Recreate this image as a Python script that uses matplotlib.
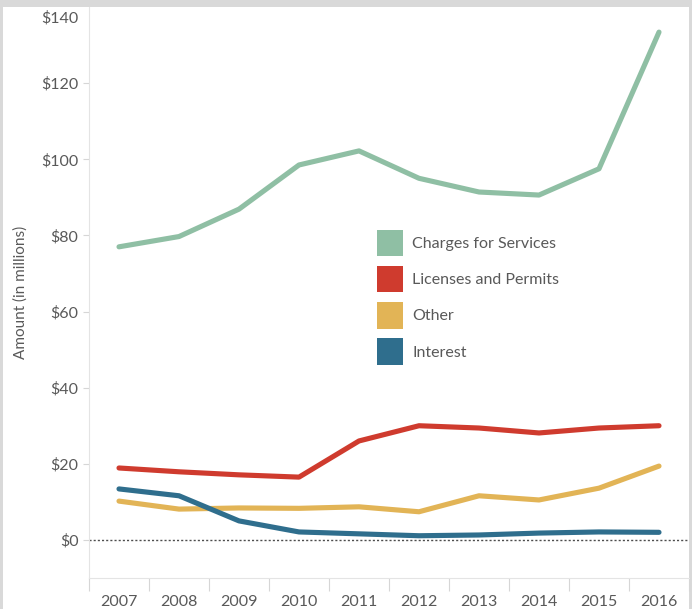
import matplotlib.pyplot as plt
from matplotlib.patches import Patch, Rectangle
from matplotlib.ticker import FixedLocator, FuncFormatter
from matplotlib.transforms import ScaledTranslation

plt.rcParams["font.family"] = ["Lato", "DejaVu Sans"]

# Revenue by source, in millions of dollars
years = [2007, 2008, 2009, 2010, 2011, 2012, 2013, 2014, 2015, 2016]
charges_for_services = [77.0, 79.7, 86.9, 98.5, 102.2, 95.0, 91.4, 90.6, 97.5, 133.4]
licenses_and_permits = [18.9, 17.9, 17.1, 16.5, 26.0, 30.0, 29.4, 28.1, 29.4, 30.0]
other = [10.2, 8.1, 8.4, 8.3, 8.7, 7.4, 11.6, 10.5, 13.6, 19.4]
interest = [13.4, 11.6, 5.0, 2.1, 1.6, 1.1, 1.3, 1.8, 2.1, 2.0]

series_names = ["Charges for Services", "Licenses and Permits", "Other", "Interest"]
series_colors = ["#8fbfa4", "#cf3b2e", "#e2b456", "#2f6e8d"]

W, H = 692, 609
fig = plt.figure(figsize=(W / 100, H / 100), dpi=100, facecolor="#d9d9d9")
# white panel inside the gray frame
fig.patches.append(Rectangle((3 / W, 0), (689 - 3) / W, (H - 7) / H,
                             transform=fig.transFigure, facecolor="white",
                             edgecolor="none", zorder=-10))

ax = fig.add_axes([89 / W, (H - 578) / H, (689 - 89) / W, (578 - 7) / H])
ax.set_facecolor("none")

for vals, name, color in zip([charges_for_services, licenses_and_permits, other, interest],
                             series_names, series_colors):
    ax.plot(years, vals, color=color, linewidth=3.7, solid_capstyle="round",
            solid_joinstyle="round", label=name, zorder=3)

ax.axhline(0, color="#4d4d4d", linestyle=(0, (1.5, 1.5)), linewidth=1.0, zorder=2)

ax.set_xlim(2006.5, 2016.5)
ax.set_ylim(-10, 140)

# y axis: dollar ticks
ax.yaxis.set_major_locator(FixedLocator(list(range(0, 141, 20))))
ax.yaxis.set_major_formatter(FuncFormatter(lambda v, p: f"${v:.0f}"))
ax.tick_params(axis="y", length=4.5, width=0.8, color="#d6d6d6", pad=3,
               labelsize=11.5, labelcolor="#595959")
# keep the top label inside the panel
top_label = ax.get_yticklabels()[-1]
top_label.set_verticalalignment("top")
top_label.set_transform(top_label.get_transform()
                        + ScaledTranslation(0, -3 / 72, fig.dpi_scale_trans))
ax.yaxis.get_major_ticks()[-1].tick1line.set_visible(False)

# x axis: year labels centred, tick marks between years
ax.set_xticks(years)
ax.set_xticks([y - 0.5 for y in years] + [2016.5], minor=True)
ax.tick_params(axis="x", which="major", length=0, pad=12, labelsize=11.5,
               labelcolor="#595959")
ax.tick_params(axis="x", which="minor", length=9, width=0.8, color="#d6d6d6")

for side in ["top", "right"]:
    ax.spines[side].set_visible(False)
for side in ["left", "bottom"]:
    ax.spines[side].set_color("#e4e4e4")
    ax.spines[side].set_linewidth(0.8)

ax.set_ylabel("Amount (in millions)", fontsize=11, color="#595959", labelpad=10)

handles = [Patch(facecolor=c, edgecolor="none") for c in series_colors]
ax.legend(handles, series_names, loc="upper left",
          bbox_to_anchor=(377 / W, (H - 230) / H), bbox_transform=fig.transFigure,
          frameon=False, fontsize=11.5, labelcolor="#595959", borderpad=0,
          borderaxespad=0, handlelength=1.6, handleheight=2.15,
          handletextpad=0.6, labelspacing=0.62)

fig.savefig("out.png", dpi=100, facecolor=fig.get_facecolor())
